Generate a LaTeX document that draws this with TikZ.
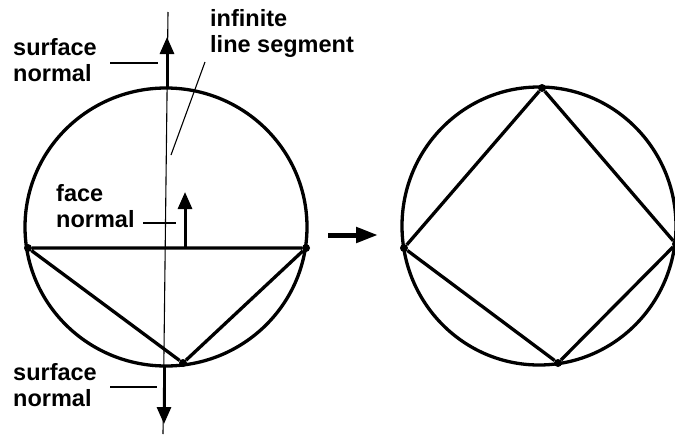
\documentclass[tikz,border=0pt]{standalone}
\usepackage{fontspec}
\setmainfont{Liberation Sans}
\usetikzlibrary{arrows.meta}
\tikzset{
  heavy/.style={line width=3.3pt},
  hair/.style={line width=1.1pt},
  vdot/.style={circle, fill=black, inner sep=0pt, minimum size=8pt},
  lbl/.style={font=\fontsize{23.5}{26}\selectfont\bfseries, align=left, inner sep=0pt, anchor=base west},
  normalarrow/.style={line width=3pt, -{Triangle[length=17pt,width=14pt]}},
}
\begin{document}
\begin{tikzpicture}[x=1pt,y=-1pt]
\useasboundingbox (0,0) rectangle (675,434);
% left figure
\draw[heavy] (166,227) ellipse [x radius=141, y radius=139];
\node[vdot] (L) at (28,248) {};
\node[vdot] (R) at (306,248) {};
\node[vdot] (B) at (183,363) {};
\draw[heavy, line join=round] (L) -- (R) -- (B) -- (L);
% infinite line segment
\coordinate (vtop) at (168,12);
\coordinate (vbot) at (163,434);
\draw[hair] (vtop) -- (vbot);
% surface normals
\coordinate (ctop) at (167,88);
\coordinate (ttip) at (167,37);
\draw[normalarrow] (ctop) -- (ttip);
\coordinate (cbot) at (164,365);
\coordinate (btip) at (164,424);
\draw[normalarrow] (cbot) -- (btip);
% face normal
\coordinate (fbase) at (185,248);
\coordinate (ftip) at (185,192);
\draw[normalarrow] (fbase) -- (ftip);
% labels (anchor = baseline of last line)
\node[lbl] (sntop) at (13,81) {surface\\normal};
\node[lbl] (inf) at (210,52) {infinite\\line segment};
\node[lbl] (fn) at (56,227) {face\\normal};
\node[lbl] (snbot) at (13,406) {surface\\normal};
% leaders
\coordinate (l1a) at (110,63); \coordinate (l1b) at (158,63);
\draw[hair] (l1a) -- (l1b);
\coordinate (l2a) at (205,62); \coordinate (l2b) at (171,155);
\draw[hair] (l2a) -- (l2b);
\coordinate (l3a) at (143,223); \coordinate (l3b) at (176,223);
\draw[hair] (l3a) -- (l3b);
\coordinate (l4a) at (110,387); \coordinate (l4b) at (157,387);
\draw[hair] (l4a) -- (l4b);
% middle arrow
\coordinate (ma) at (328,235);
\coordinate (mb) at (378,235);
\draw[line width=5pt, -{Triangle[length=22pt,width=15pt]}] (ma) -- (mb);
% right figure
\draw[heavy] (539,226) ellipse [x radius=137, y radius=139];
\node[vdot] (T2) at (542,88) {};
\node[vdot] (L2) at (404,248) {};
\node[vdot] (B2) at (558,363) {};
\node[vdot] (R2) at (676,244) {};
\draw[heavy, line join=round] (T2) -- (R2) -- (B2) -- (L2) -- (T2);
\end{tikzpicture}
\end{document}
